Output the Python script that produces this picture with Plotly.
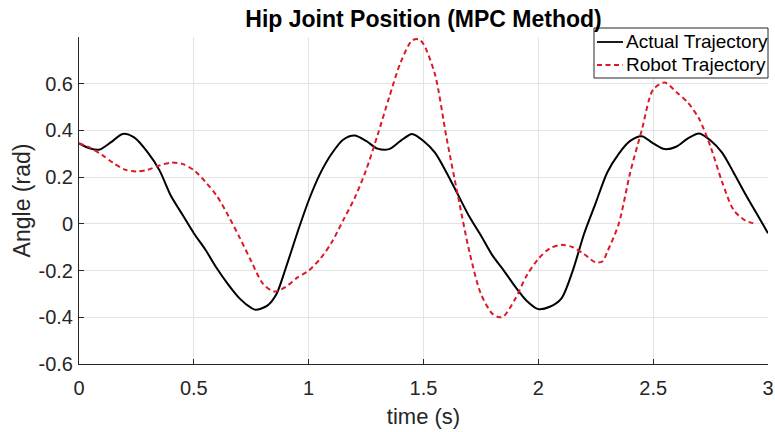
import plotly.graph_objects as go

# ---- data ----
t_actual = [0, 0.05, 0.09, 0.14, 0.19, 0.24, 0.3, 0.35, 0.4, 0.45, 0.5, 0.55, 0.6, 0.65,
            0.7, 0.75, 0.77, 0.82, 0.86, 0.9, 0.95, 1.0, 1.05, 1.1, 1.15, 1.2, 1.25, 1.3,
            1.35, 1.4, 1.45, 1.5, 1.55, 1.6, 1.65, 1.7, 1.75, 1.8, 1.85, 1.9, 1.95, 2.0,
            2.05, 2.1, 2.15, 2.2, 2.25, 2.3, 2.35, 2.4, 2.45, 2.5, 2.55, 2.6, 2.65, 2.7,
            2.75, 2.8, 2.85, 2.9, 2.95, 3.0]
actual = [0.345, 0.322, 0.318, 0.35, 0.385, 0.37, 0.305, 0.23, 0.12, 0.04, -0.04, -0.11,
          -0.19, -0.26, -0.32, -0.36, -0.368, -0.35, -0.3, -0.19, -0.04, 0.1, 0.215, 0.3,
          0.36, 0.378, 0.355, 0.322, 0.32, 0.355, 0.385, 0.355, 0.305, 0.22, 0.125, 0.03,
          -0.05, -0.135, -0.2, -0.27, -0.33, -0.365, -0.355, -0.32, -0.2, -0.04, 0.09,
          0.22, 0.3, 0.355, 0.375, 0.345, 0.32, 0.33, 0.365, 0.387, 0.357, 0.305, 0.22,
          0.13, 0.045, -0.04]

t_robot = [0, 0.05, 0.1, 0.15, 0.2, 0.25, 0.3, 0.35, 0.4, 0.45, 0.5, 0.55, 0.6, 0.65, 0.7,
           0.75, 0.8, 0.85, 0.9, 0.95, 1.0, 1.05, 1.1, 1.15, 1.2, 1.25, 1.3, 1.35, 1.4,
           1.45, 1.48, 1.5, 1.55, 1.6, 1.65, 1.7, 1.75, 1.8, 1.83, 1.85, 1.9, 1.95, 2.0,
           2.05, 2.1, 2.15, 2.2, 2.25, 2.28, 2.3, 2.35, 2.4, 2.45, 2.5, 2.55, 2.6, 2.65,
           2.7, 2.75, 2.8, 2.85, 2.9, 2.95]
robot = [0.345, 0.325, 0.295, 0.26, 0.232, 0.224, 0.232, 0.25, 0.262, 0.257, 0.23, 0.18,
         0.12, 0.035, -0.06, -0.16, -0.255, -0.29, -0.27, -0.23, -0.2, -0.15, -0.08,
         0.015, 0.11, 0.23, 0.38, 0.54, 0.69, 0.785, 0.79, 0.77, 0.64, 0.37, 0.12, -0.12,
         -0.3, -0.385, -0.4, -0.395, -0.32, -0.22, -0.15, -0.105, -0.09, -0.1, -0.13,
         -0.165, -0.16, -0.12, 0.0, 0.22, 0.4, 0.575, 0.605, 0.565, 0.52, 0.45, 0.33,
         0.18, 0.06, 0.015, 0.0]

series_names = ["Actual Trajectory", "Robot Trajectory"]

x_ticks = [0, 0.5, 1, 1.5, 2, 2.5, 3]
x_labels = ["0", "0.5", "1", "1.5", "2", "2.5", "3"]
y_ticks = [-0.6, -0.4, -0.2, 0, 0.2, 0.4, 0.6]
y_labels = ["-0.6", "-0.4", "-0.2", "0", "0.2", "0.4", "0.6"]

FONT = "Liberation Sans, Arial, sans-serif"
AXC = "#262626"
RED = "#dc1a26"
DASH = "5px,3.5px"
W, H = 775, 432
ML, MR, MT, MB = 79, 7, 37, 68
PW, PH = W - ML - MR, H - MT - MB

fig = go.Figure()
fig.add_trace(go.Scatter(x=t_actual, y=actual, mode="lines", name=series_names[0],
                         line=dict(color="black", width=2, shape="spline", smoothing=0.8)))
fig.add_trace(go.Scatter(x=t_robot, y=robot, mode="lines", name=series_names[1],
                         line=dict(color=RED, width=2, dash=DASH,
                                   shape="spline", smoothing=0.8)))


def px_x(p):
    return (p - ML) / PW


def px_y(p):
    return 1 - (p - MT) / PH


# legend box drawn in the MATLAB style (compact rows, short line samples)
shapes = [dict(type="rect", xref="paper", yref="paper", x0=px_x(594), x1=px_x(768),
               y0=px_y(78), y1=px_y(28), fillcolor="white",
               line=dict(color=AXC, width=1), layer="above")]
annos = []
rows = [(42, "black", "solid"), (65, RED, DASH)]
for (yy, col, dsh), name in zip(rows, series_names):
    shapes.append(dict(type="line", xref="paper", yref="paper", x0=px_x(597), x1=px_x(623),
                       y0=px_y(yy), y1=px_y(yy), line=dict(color=col, width=1.8, dash=dsh),
                       layer="above"))
    annos.append(dict(text=name, xref="paper", yref="paper", x=px_x(624), y=px_y(yy),
                      xanchor="left", yanchor="middle", showarrow=False,
                      font=dict(size=19, color="black", family=FONT)))

fig.update_layout(
    width=W, height=H,
    margin=dict(l=ML, r=MR, t=MT, b=MB, autoexpand=False),
    paper_bgcolor="white", plot_bgcolor="white",
    font=dict(family=FONT, color=AXC),
    title=dict(text="<b>Hip Joint Position (MPC Method)</b>", x=0.5, xref="paper",
               xanchor="center", y=1 - 18.5 / H, yref="container", yanchor="middle",
               font=dict(size=23, color="black", family=FONT)),
    showlegend=False,
    shapes=shapes, annotations=annos,
)
fig.update_xaxes(range=[0, 3], tickvals=x_ticks, ticktext=x_labels, automargin=False,
                 ticks="inside", ticklen=5, tickcolor=AXC, showline=True, linecolor=AXC,
                 linewidth=1, mirror=False, showgrid=True, gridcolor="#e3e3e3",
                 zeroline=False, tickfont=dict(size=20, color=AXC),
                 ticklabeloverflow="allow", ticklabelstandoff=6,
                 title=dict(text="time (s)", font=dict(size=22, color=AXC), standoff=10))
fig.update_yaxes(range=[-0.6, 0.8], tickvals=y_ticks, ticktext=y_labels, automargin=False,
                 ticks="inside", ticklen=5, tickcolor=AXC, showline=True, linecolor=AXC,
                 linewidth=1, mirror=False, showgrid=True, gridcolor="#e3e3e3",
                 zeroline=False, tickfont=dict(size=20, color=AXC),
                 ticklabeloverflow="allow", ticklabelstandoff=1,
                 title=dict(text="Angle (rad)", font=dict(size=23, color=AXC), standoff=1))

fig.write_html("out.html", config={"displayModeBar": False},
               post_script="document.body.style.margin='0';document.body.style.overflow='hidden';")
